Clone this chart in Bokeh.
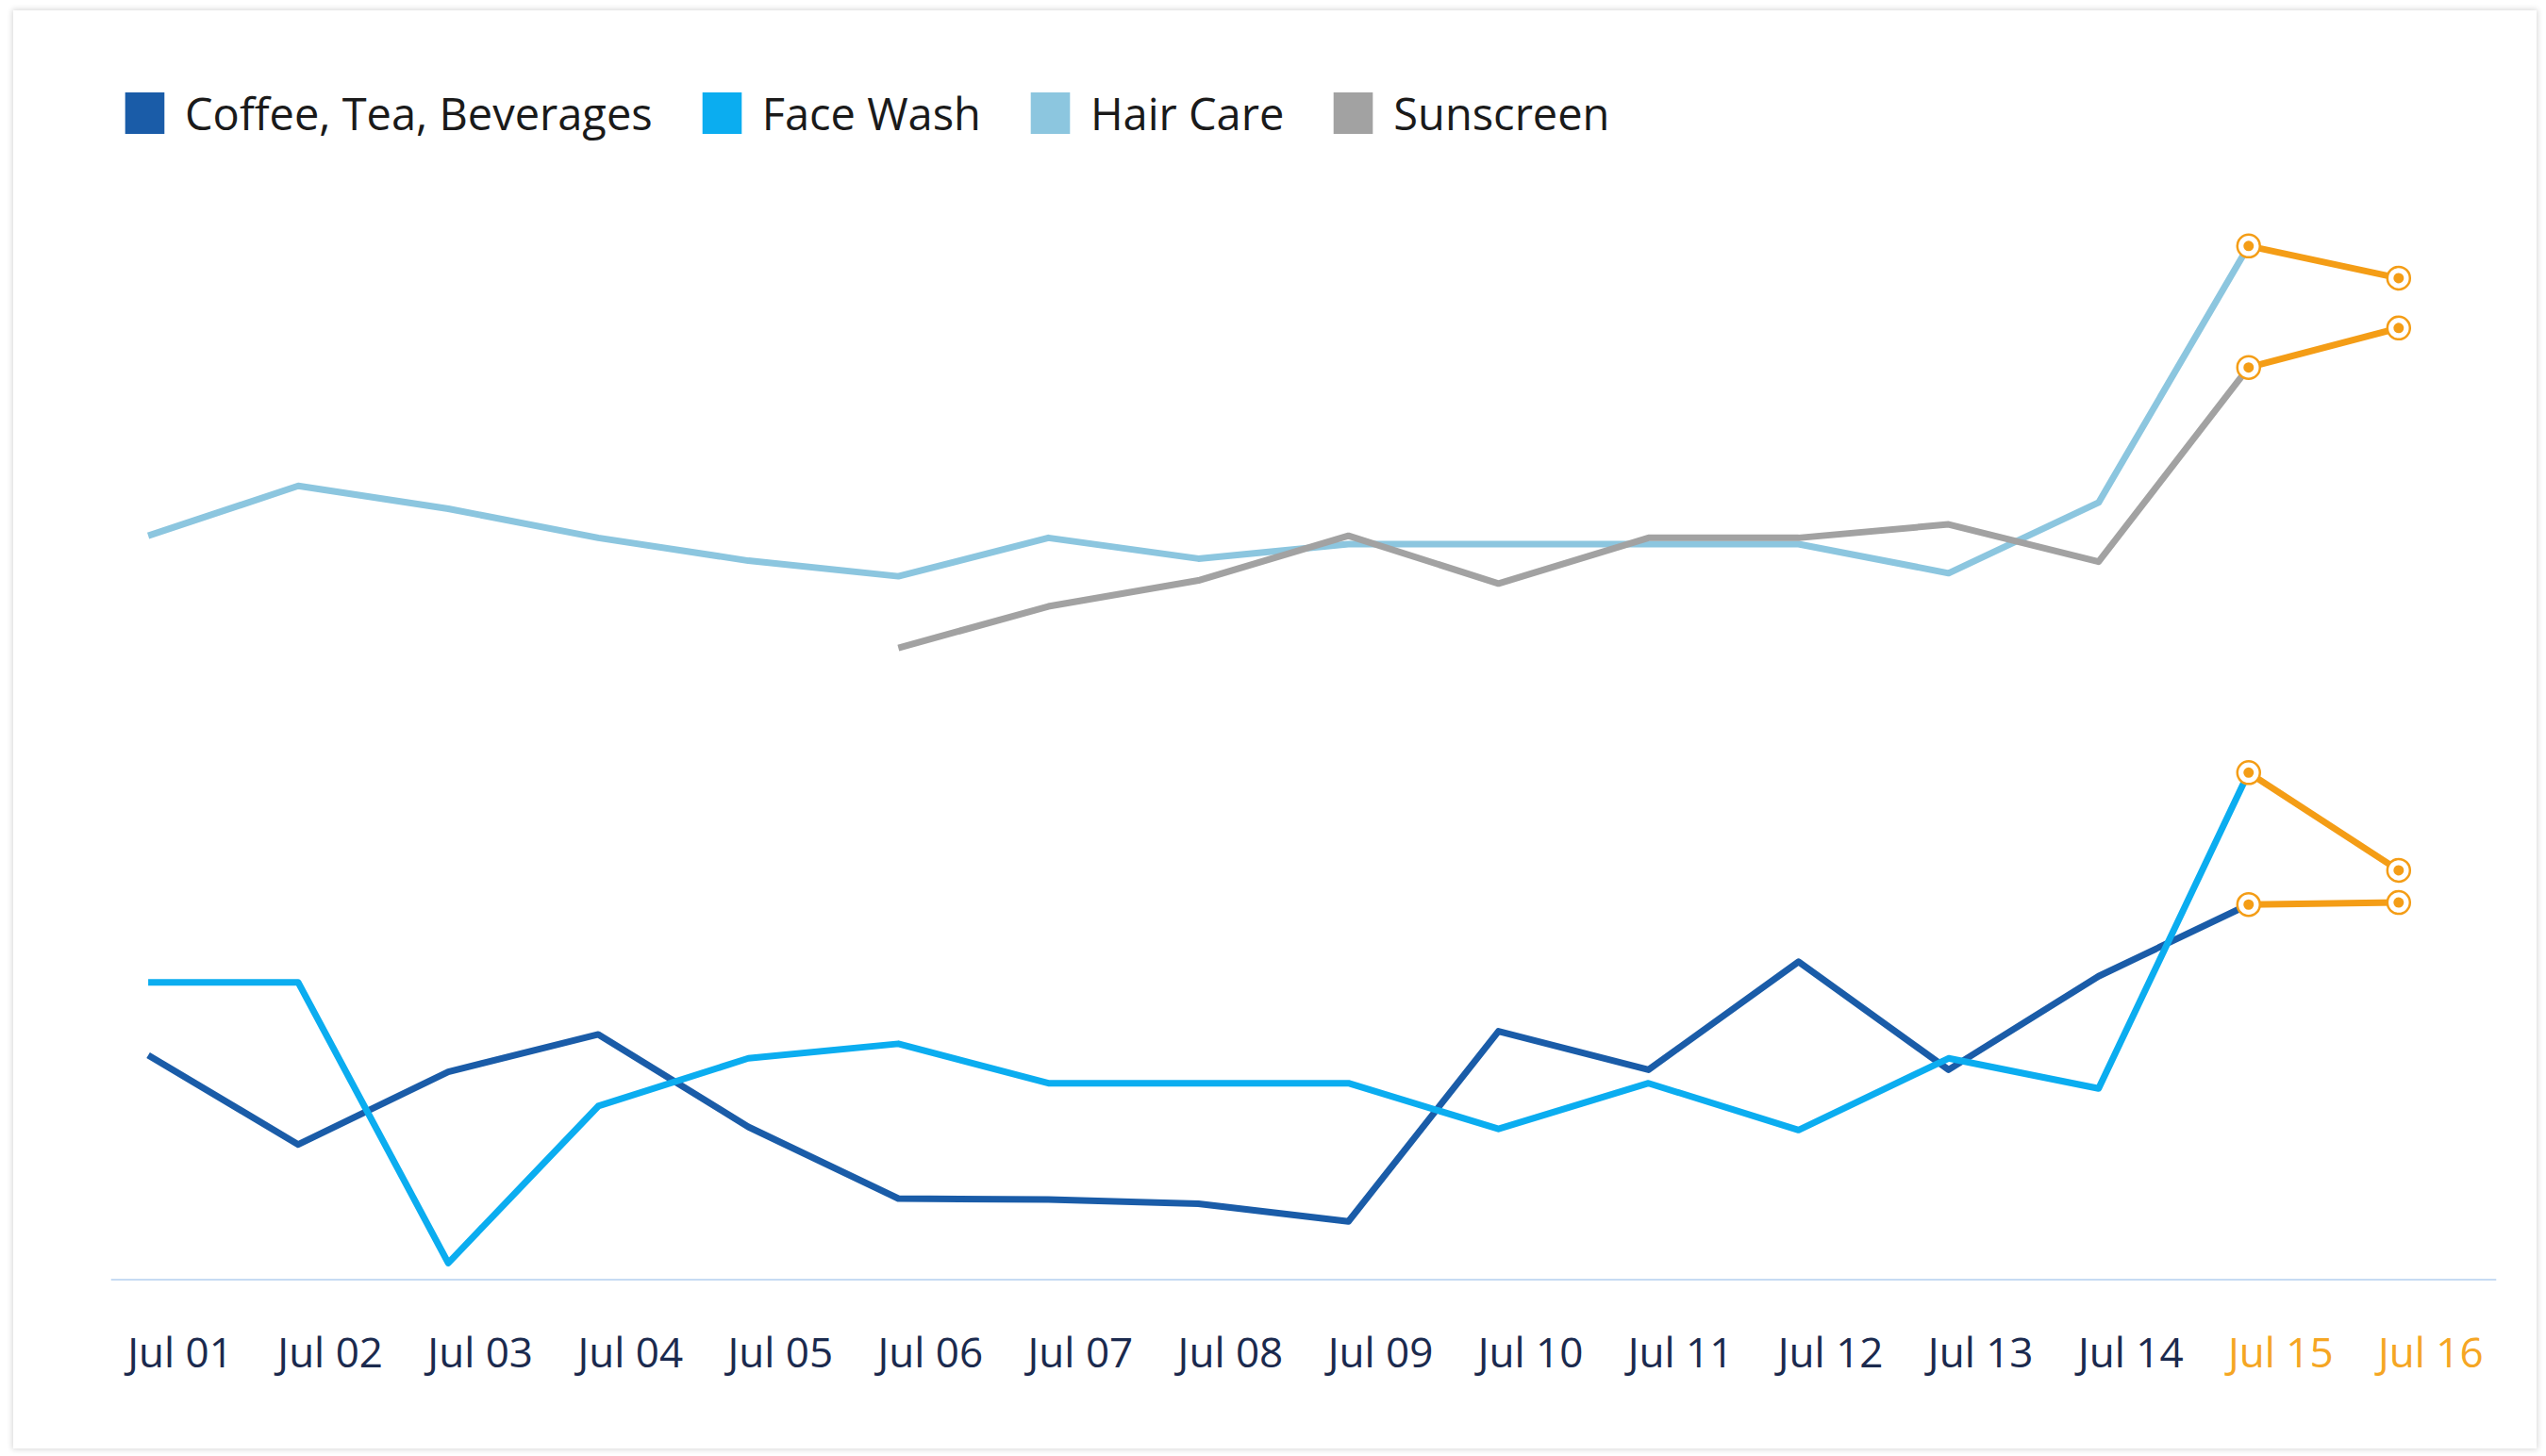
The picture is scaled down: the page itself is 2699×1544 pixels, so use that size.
from bokeh.plotting import figure
from bokeh.models import (ColumnDataSource, Legend, LegendItem, Range1d, Span)
from bokeh.core.properties import value
from bokeh.embed import file_html
from bokeh.resources import INLINE

nan = float("nan")

# ---------------- data ----------------
dates = ["Jul 01", "Jul 02", "Jul 03", "Jul 04", "Jul 05", "Jul 06", "Jul 07", "Jul 08",
         "Jul 09", "Jul 10", "Jul 11", "Jul 12", "Jul 13", "Jul 14", "Jul 15", "Jul 16"]
n_actual = 15          # Jul 01 .. Jul 15 drawn in series colour
forecast_from = 14     # index where forecast segment starts (Jul 15)

coffee = [21.6, 13.0, 20.0, 23.6, 14.7, 7.8, 7.7, 7.3, 5.6, 23.9, 20.2, 30.6, 20.2, 29.2, 36.1, 36.3]
face_wash = [28.6, 28.6, 1.6, 16.7, 21.3, 22.7, 18.9, 18.9, 18.9, 14.5, 18.9, 14.4, 21.3, 18.4, 48.8, 39.4]
hair_care = [71.6, 76.4, 74.2, 71.4, 69.2, 67.7, 71.4, 69.4, 70.8, 70.8, 70.8, 70.8, 68.0, 74.8, 99.5, 96.4]
sunscreen = [nan, nan, nan, nan, nan, 60.8, 64.8, 67.3, 71.6, 67.0, 71.4, 71.4, 72.7, 69.1, 87.8, 91.6]

series_names = ["Coffee, Tea, Beverages", "Face Wash", "Hair Care", "Sunscreen"]
series_values = [coffee, face_wash, hair_care, sunscreen]
series_colors = ["#1A5CA8", "#0BADF0", "#8CC6DF", "#A2A2A2"]
forecast_color = "#F49D16"
label_dark = "#1B2A4E"
label_forecast = "#F5A623"

x_idx = list(range(len(dates)))

# ---------------- figure ----------------
W, H = 2675, 1525
p = figure(width=W, height=H, output_backend="svg", toolbar_location=None,
           x_range=Range1d(-0.249, 15.652), y_range=Range1d(-16.30, 122.13),
           x_axis_location=None, y_axis_location=None,
           min_border_left=103, min_border_right=43,
           min_border_top=0, min_border_bottom=0,
           background_fill_color="white", border_fill_color="white")
p.styles = {"box-shadow": "0px 0px 6px 1px rgba(0,0,0,0.16)",
            "margin-left": "14px", "margin-top": "11px"}
p.outline_line_color = None
p.grid.visible = False

# baseline (x axis line)
p.add_layout(Span(location=0, dimension="width", line_color="#C6DBF3", line_width=2))

# series lines (actual part)
for vals, col in zip(series_values, series_colors):
    p.line(x_idx[:n_actual], vals[:n_actual], line_color=col, line_width=7,
           line_join="round")

# forecast segments + markers
for vals in series_values:
    fx = x_idx[forecast_from:]
    fy = vals[forecast_from:]
    p.line(fx, fy, line_color=forecast_color, line_width=7, line_join="round")
    p.scatter(fx, fy, size=24, marker="circle", fill_color="white",
              line_color=forecast_color, line_width=2.5)
    p.scatter(fx, fy, size=11, marker="circle", fill_color=forecast_color,
              line_color=None)

# x tick labels (coloured per date)
lab_colors = [label_forecast if i >= forecast_from else label_dark for i in x_idx]
lab_src = ColumnDataSource(dict(x=x_idx, y=[0] * len(x_idx), text=dates, color=lab_colors))
p.text(x="x", y="y", text="text", source=lab_src, x_offset=34, y_offset=76,
       text_align="center", text_baseline="middle", text_color="color",
       text_font=value("Open Sans"), text_font_size="44px")

# legend with square swatches
items = []
for name, col in zip(series_names, series_colors):
    r = p.vbar(x=[nan], top=[nan], width=0.1, fill_color=col, line_color=None)
    items.append(LegendItem(label=name, renderers=[r]))

legend = Legend(items=items, orientation="horizontal", location=(10, 1384.5),
                glyph_width=52, glyph_height=55, label_standoff=17, spacing=47,
                padding=12, margin=0, border_line_color=None,
                background_fill_alpha=0, label_text_font="Open Sans",
                label_text_font_size="47px", label_text_color="#1A1A1A",
                label_text_baseline="middle")
p.add_layout(legend)

open("out.html", "w").write(file_html(p, INLINE))
